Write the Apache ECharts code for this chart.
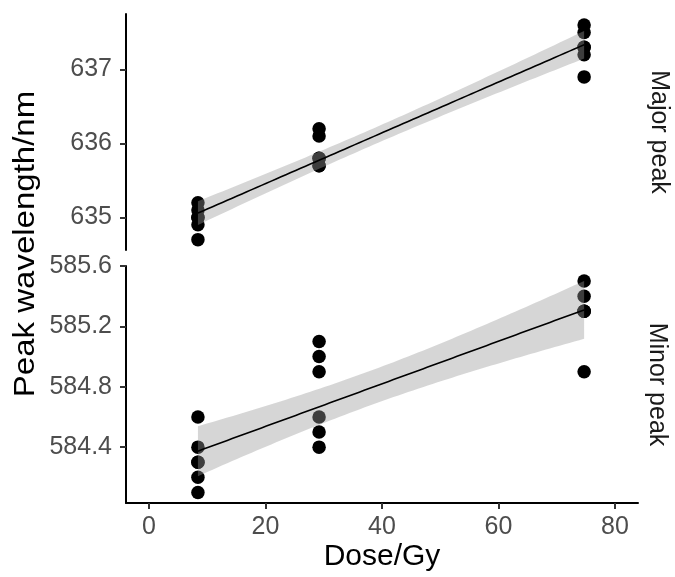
<!DOCTYPE html>
<html>
<head>
<meta charset="utf-8">
<title>Peak wavelength vs dose</title>
<script src="https://cdn.jsdelivr.net/npm/echarts@6/dist/echarts.min.js"></script>
<style>
  html, body { margin: 0; padding: 0; background: #fff; }
  #chart { width: 675px; height: 577px; }
</style>
</head>
<body>
<div id="chart"></div>
<script>
// Dose levels (Gy) and measured peak wavelengths (nm) at each level
const doseLevels = [8.4, 29.2, 74.7];
const majorPeakNm = [
  [635.2, 635.1, 635.0, 635.0, 634.9, 634.7],
  [636.2, 636.1, 635.8, 635.8, 635.7, 635.7],
  [637.6, 637.5, 637.3, 637.3, 637.2, 636.9]
];
const minorPeakNm = [
  [584.6, 584.4, 584.3, 584.3, 584.2, 584.1],
  [585.1, 585.0, 584.9, 584.6, 584.5, 584.4],
  [585.5, 585.4, 585.3, 585.3, 585.3, 584.9]
];

// Tick positions
const doseTicks = [0, 20, 40, 60, 80];
const majorTicks = [635, 636, 637];
const minorTicks = [584.4, 584.8, 585.2, 585.6];

// Panel ranges
const doseRange = [-3.95, 83.95];
const majorRange = [634.56, 637.75];
const minorRange = [584.03, 585.6];

const FONT = '"Liberation Sans", Arial, Helvetica, sans-serif';

function toPairs(groups) {
  const out = [];
  groups.forEach((vals, i) => vals.forEach(v => out.push([doseLevels[i], v])));
  return out;
}

// Student t quantile (Cornish-Fisher expansion)
function tQuantile975(df) {
  const z = 1.959963985;
  const z3 = z * z * z, z5 = z3 * z * z, z7 = z5 * z * z;
  return z + (z3 + z) / (4 * df) + (5 * z5 + 16 * z3 + 3 * z) / (96 * df * df)
    + (3 * z7 + 19 * z5 + 17 * z3 - 15 * z) / (384 * df * df * df);
}

// Ordinary least squares fit with a 95% confidence band
function linearFit(pairs, steps) {
  const n = pairs.length;
  const xbar = pairs.reduce((s, p) => s + p[0], 0) / n;
  const ybar = pairs.reduce((s, p) => s + p[1], 0) / n;
  let sxx = 0, sxy = 0;
  pairs.forEach(p => { sxx += (p[0] - xbar) ** 2; sxy += (p[0] - xbar) * (p[1] - ybar); });
  const slope = sxy / sxx;
  const icpt = ybar - slope * xbar;
  let sse = 0;
  pairs.forEach(p => { sse += (p[1] - icpt - slope * p[0]) ** 2; });
  const s = Math.sqrt(sse / (n - 2));
  const t = tQuantile975(n - 2);
  const x0 = Math.min(...pairs.map(p => p[0]));
  const x1 = Math.max(...pairs.map(p => p[0]));
  const line = [], upper = [], lower = [];
  for (let i = 0; i < steps; i++) {
    const x = x0 + (x1 - x0) * i / (steps - 1);
    const y = icpt + slope * x;
    const se = s * Math.sqrt(1 / n + (x - xbar) ** 2 / sxx);
    line.push([x, y]);
    upper.push([x, y + t * se]);
    lower.push([x, y - t * se]);
  }
  return { line, upper, lower };
}

const majorPts = toPairs(majorPeakNm);
const minorPts = toPairs(minorPeakNm);
const majorFit = linearFit(majorPts, 80);
const minorFit = linearFit(minorPts, 80);

function bandSeries(fit, idx) {
  const poly = fit.upper.concat(fit.lower.slice().reverse());
  return {
    type: 'custom',
    xAxisIndex: idx, yAxisIndex: idx,
    data: [fit.line[0]],
    z: 3,
    silent: true,
    renderItem: function (params, api) {
      return {
        type: 'polygon',
        shape: { points: poly.map(p => api.coord(p)) },
        style: { fill: '#999999', opacity: 0.4 }
      };
    }
  };
}

function pointSeries(pts, idx) {
  return {
    type: 'scatter', xAxisIndex: idx, yAxisIndex: idx,
    data: pts, symbolSize: 13.5, z: 2,
    itemStyle: { color: '#000000', opacity: 1 }
  };
}

function lineSeries(fit, idx) {
  return {
    type: 'line', xAxisIndex: idx, yAxisIndex: idx,
    data: fit.line, showSymbol: false, z: 4,
    lineStyle: { color: '#000000', width: 1.6 }
  };
}

const axisLineStyle = { show: true, onZero: false, lineStyle: { color: '#000000', width: 2 } };
const tickStyle = { show: true, length: 6, lineStyle: { color: '#333333', width: 2 } };
const labelStyle = { color: '#4d4d4d', fontSize: 25, fontFamily: FONT };

const chart = echarts.init(document.getElementById('chart'), null, { renderer: 'canvas' });
chart.setOption({
  animation: false,
  backgroundColor: '#ffffff',
  grid: [
    { left: 126, top: 14, width: 512, height: 236 },
    { left: 126, top: 266, width: 512, height: 237 }
  ],
  xAxis: [
    { gridIndex: 0, type: 'value', min: doseRange[0], max: doseRange[1], show: false },
    {
      gridIndex: 1, type: 'value', min: doseRange[0], max: doseRange[1],
      axisLine: axisLineStyle,
      axisTick: Object.assign({ customValues: doseTicks }, tickStyle),
      axisLabel: Object.assign({ customValues: doseTicks, margin: 12 }, labelStyle),
      splitLine: { show: false },
      name: 'Dose/Gy', nameLocation: 'middle', nameGap: 39,
      nameTextStyle: { color: '#000000', fontSize: 30, fontFamily: FONT }
    }
  ],
  yAxis: [
    {
      gridIndex: 0, type: 'value', min: majorRange[0], max: majorRange[1],
      axisLine: axisLineStyle,
      axisTick: Object.assign({ customValues: majorTicks }, tickStyle),
      axisLabel: Object.assign({ customValues: majorTicks, margin: 14,
        formatter: v => v.toFixed(0) }, labelStyle),
      splitLine: { show: false }
    },
    {
      gridIndex: 1, type: 'value', min: minorRange[0], max: minorRange[1],
      axisLine: axisLineStyle,
      axisTick: Object.assign({ customValues: minorTicks }, tickStyle),
      axisLabel: Object.assign({ customValues: minorTicks, margin: 14,
        formatter: v => v.toFixed(1) }, labelStyle),
      splitLine: { show: false }
    }
  ],
  graphic: [
    {
      type: 'text', x: 26, y: 244, rotation: Math.PI / 2, scaleX: 1.1,
      style: { text: 'Peak wavelength/nm', fill: '#000000', font: '30px ' + FONT,
        align: 'center', verticalAlign: 'middle' }
    },
    {
      type: 'text', x: 659, y: 132, rotation: -Math.PI / 2,
      style: { text: 'Major peak', fill: '#1a1a1a', font: '25px ' + FONT,
        align: 'center', verticalAlign: 'middle' }
    },
    {
      type: 'text', x: 657, y: 384.5, rotation: -Math.PI / 2,
      style: { text: 'Minor peak', fill: '#1a1a1a', font: '25px ' + FONT,
        align: 'center', verticalAlign: 'middle' }
    }
  ],
  series: [
    pointSeries(majorPts, 0),
    bandSeries(majorFit, 0),
    lineSeries(majorFit, 0),
    pointSeries(minorPts, 1),
    bandSeries(minorFit, 1),
    lineSeries(minorFit, 1)
  ]
});
</script>
</body>
</html>
